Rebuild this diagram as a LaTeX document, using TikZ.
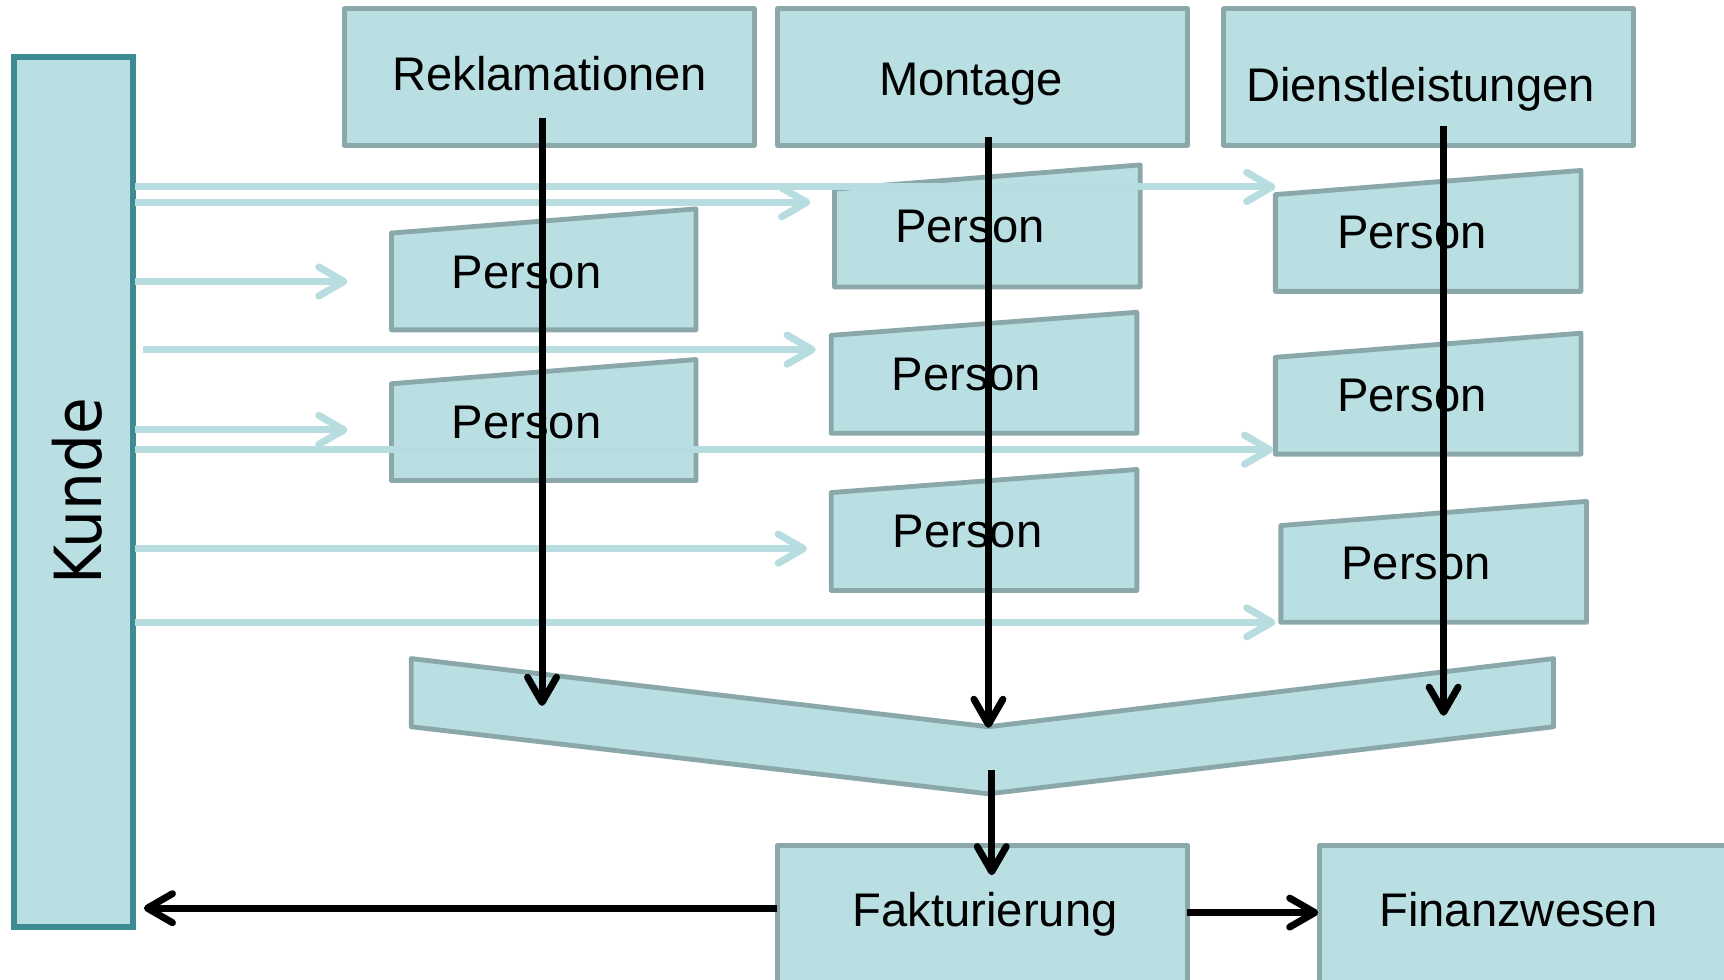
\documentclass[tikz,border=0pt]{standalone}
\usepackage{fontspec}
\setmainfont{Liberation Sans}
\newfontfamily\kundefont{DejaVu Sans}
\usetikzlibrary{arrows.meta}

\definecolor{boxfill}{RGB}{186,223,226}
\definecolor{boxline}{RGB}{138,168,170}
\definecolor{kundeline}{RGB}{62,139,145}
\definecolor{flowcyan}{RGB}{183,221,224}

\begin{document}
\begin{tikzpicture}[x=0.01cm,y=-0.01cm,
  box/.style={draw=boxline,fill=boxfill,line width=1.25pt,line join=round},
  lbl/.style={anchor=base,inner sep=0pt,font=\fontsize{12.2}{14}\selectfont},
  flow/.style={line width=1.8pt,-{Straight Barb[length=6.5pt,width=7.5pt,line width=1.8pt,round]}},
  cyanflow/.style={draw=flowcyan,line width=1.85pt,-{Straight Barb[length=6.5pt,width=7.5pt,line width=1.85pt,round]}}]
\useasboundingbox (0,0) rectangle (1568,891);

% Kunde
\node[draw=kundeline,fill=boxfill,line width=1.6pt,minimum width=1.08cm,minimum height=7.91cm,inner sep=0pt]
  (kunde) at (67,447.5) {};
\node[anchor=base,inner sep=0pt,rotate=90,font=\kundefont\fontsize{16.8}{18}\selectfont]
  (kundetxt) at (92,447) {\scalebox{0.92}[1]{Kunde}};

% departments
\draw[box] (313,8) rectangle (686,132);
\node[lbl] (rek) at (500,82) {Reklamationen};
\draw[box] (707,8) rectangle (1080,132);
\node[lbl] (mon) at (883,87) {Montage};
\draw[box] (1113,8) rectangle (1486,132);
\node[lbl] (dien) at (1292,92) {Dienstleistungen};

% persons
\draw[box] (356,300) -- (356,212) -- (633,190) -- (633,300) -- cycle;
\node[lbl] (pr1) at (479,262) {Person};
\draw[box] (356,437) -- (356,349) -- (633,327) -- (633,437) -- cycle;
\node[lbl] (pr2) at (479,399) {Person};
\draw[box] (759,261) -- (759,172) -- (1037,150) -- (1037,261) -- cycle;
\node[lbl] (pm1) at (882,221) {Person};
\draw[box] (756,394) -- (756,305) -- (1034,284) -- (1034,394) -- cycle;
\node[lbl] (pm2) at (879,355) {Person};
\draw[box] (756,537) -- (756,448) -- (1034,427) -- (1034,537) -- cycle;
\node[lbl] (pm3) at (880,498) {Person};
\draw[box] (1160,265) -- (1160,177) -- (1438,155) -- (1438,265) -- cycle;
\node[lbl] (pd1) at (1284,226) {Person};
\draw[box] (1160,413) -- (1160,325) -- (1438,303) -- (1438,413) -- cycle;
\node[lbl] (pd2) at (1284,374) {Person};
\draw[box] (1165,566) -- (1165,478) -- (1443,456) -- (1443,566) -- cycle;
\node[lbl] (pd3) at (1288,527) {Person};

% merge
\draw[box] (374,599) -- (899,661) -- (1413,599) -- (1413,661) -- (899,722) -- (374,661) -- cycle;

% billing
\draw[box] (707,769) rectangle (1080,920);
\node[lbl] (fakt) at (896,843) {Fakturierung};
\draw[box] (1200,769) rectangle (1600,920);
\node[lbl] (fin) at (1381,843) {Finanzwesen};

% customer requests
\foreach \xs/\y/\xe in {123/170/1160,123/184/737,123/256/316,130/318/742,123/391/316,123/409/1158,123/499/734,123/566/1160}
  \draw[cyanflow] (\xs,\y) -- (\xe,\y);

\coordinate (rekin) at (493,107);
\coordinate (monin) at (899,125);
\coordinate (dienin) at (1313,115);
\coordinate (mergeout) at (902,700);
\coordinate (faktleft) at (707,826);
\coordinate (faktright) at (1080,830);
\draw[flow] (rekin) -- (493,642);
\draw[flow] (monin) -- (899,662);
\draw[flow] (dienin) -- (1313,651);
\draw[flow] (mergeout) -- (902,796);
\draw[flow] (faktleft) -- ([xshift=0.07cm]kunde.east |- faktleft);
\draw[flow] (faktright) -- (1199,830);
\end{tikzpicture}
\end{document}
